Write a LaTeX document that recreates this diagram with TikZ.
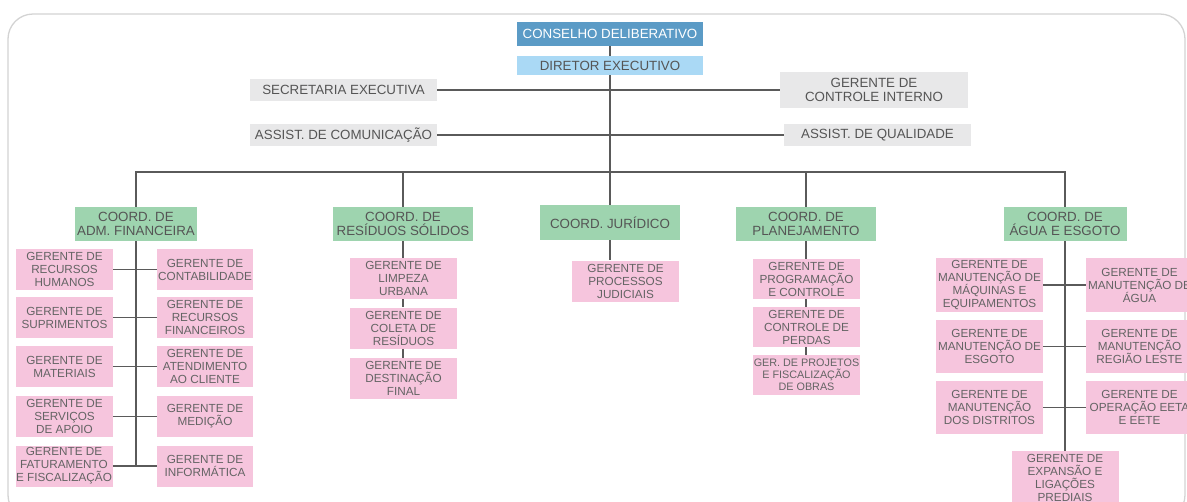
\documentclass[tikz,border=0pt]{standalone}
\usepackage{fontspec}
\setmainfont{Liberation Sans}
\newcommand\upx{*0.75pt}
\definecolor{consc}{RGB}{91,155,198}
\definecolor{dirc}{RGB}{170,217,245}
\definecolor{grayc}{RGB}{232,232,233}
\definecolor{greenc}{RGB}{158,212,175}
\definecolor{pinkc}{RGB}{246,197,221}
\definecolor{txtc}{RGB}{85,85,85}
\definecolor{pinktxt}{RGB}{100,100,100}
\definecolor{linec}{RGB}{90,90,90}
\definecolor{framec}{RGB}{211,211,211}
\tikzset{
  box/.style={inner sep=0pt, align=center, text=txtc},
  topbox/.style={box, font=\fontsize{10}{11}\selectfont, minimum width=187\upx, minimum height=22\upx},
  graybox/.style={topbox, fill=grayc},
  coord/.style={box, fill=greenc, font=\fontsize{10}{10.5}\selectfont, minimum height=34\upx},
  ger/.style={box, fill=pinkc, font=\fontsize{8.8}{9.75}\selectfont, text=pinktxt},
  gadm/.style={ger, minimum width=97\upx, minimum height=41\upx},
  gsm/.style={ger, minimum width=107\upx, minimum height=41\upx},
  gagua/.style={ger, minimum width=107\upx, minimum height=53\upx},
  conn/.style={draw=linec, line width=1.1\upx},
}
\begin{document}
\begin{tikzpicture}[x=0.75pt, y=-0.75pt]
\useasboundingbox (0,0) rectangle (1187,501);
\clip (0,0) rectangle (1187,501);
\draw[framec, line width=1.3\upx, rounded corners=25\upx] (8,14) rectangle (1185,520);

% top
\node[topbox, fill=consc, text=white, minimum width=186\upx, minimum height=24\upx] (cons) at (610,34) {CONSELHO DELIBERATIVO};
\node[topbox, fill=dirc, minimum width=186\upx, minimum height=19\upx] (dir) at (610,65.5) {DIRETOR EXECUTIVO};
\node[graybox] (sec) at (343.5,90) {SECRETARIA EXECUTIVA};
\node[graybox, minimum width=188\upx, minimum height=36\upx] (gci) at (874,90) {GERENTE DE\\CONTROLE INTERNO};
\node[graybox] (com) at (343.5,135) {ASSIST. DE COMUNICAÇÃO};
\node[graybox] (qual) at (877.5,135) {ASSIST. DE QUALIDADE};
\coordinate (bus) at (610,172);

\draw[conn] (cons.south) -- (dir.north);
\draw[conn] (dir.south) -- (bus);
\draw[conn] (sec.east) -- (gci.west);
\draw[conn] (com.east) -- (qual.west);

% coordinations
\node[coord, minimum width=122\upx] (c1) at (136,224) {COORD. DE\\ADM. FINANCEIRA};
\node[coord, minimum width=140\upx] (c2) at (403,224) {COORD. DE\\RESÍDUOS SÓLIDOS};
\node[coord, minimum width=140\upx, minimum height=35\upx] (c3) at (610,222.5) {COORD. JURÍDICO};
\node[coord, minimum width=140\upx] (c4) at (806,224) {COORD. DE\\PLANEJAMENTO};
\node[coord, minimum width=123\upx] (c5) at (1065,224) {COORD. DE\\ÁGUA E ESGOTO};

\draw[conn] (c1.north) |- (bus) -| (c5.north);
\draw[conn] (c2.north) -- (c2.north |- bus);
\draw[conn] (c3.north) -- (bus);
\draw[conn] (c4.north) -- (c4.north |- bus);

% ADM
\node[gadm] (a1) at (64.5,269.5) {GERENTE DE\\RECURSOS\\HUMANOS};
\node[gadm] (a2) at (64.5,317.5) {GERENTE DE\\SUPRIMENTOS};
\node[gadm] (a3) at (64.5,366.5) {GERENTE DE\\MATERIAIS};
\node[gadm] (a4) at (64.5,416.5) {GERENTE DE\\SERVIÇOS\\DE APOIO};
\node[gadm] (a5) at (64,466) {GERENTE DE\\FATURAMENTO\\E FISCALIZAÇÃO};
\node[gadm, minimum width=96\upx] (b1) at (205,269.5) {GERENTE DE\\CONTABILIDADE};
\node[gadm, minimum width=96\upx] (b2) at (205,317.5) {GERENTE DE\\RECURSOS\\FINANCEIROS};
\node[gadm, minimum width=96\upx] (b3) at (205,366.5) {GERENTE DE\\ATENDIMENTO\\AO CLIENTE};
\node[gadm, minimum width=96\upx] (b4) at (205,416.5) {GERENTE DE\\MEDIÇÃO};
\node[gadm, minimum width=96\upx] (b5) at (205,466) {GERENTE DE\\INFORMÁTICA};
\draw[conn] (c1.south) -- (c1.south |- a5.east);
\foreach \i in {1,...,5} \draw[conn] (a\i.east) -- (b\i.west);

% RES
\node[gsm] (r1) at (403.5,278.5) {GERENTE DE\\LIMPEZA\\URBANA};
\node[gsm] (r2) at (403.5,328) {GERENTE DE\\COLETA DE\\RESÍDUOS};
\node[gsm] (r3) at (403.5,378.5) {GERENTE DE\\DESTINAÇÃO\\FINAL};
\draw[conn] (c2.south) -- (c2.south |- r1.north);
\draw[conn] (c2.south |- r1.south) -- (c2.south |- r2.north);
\draw[conn] (c2.south |- r2.south) -- (c2.south |- r3.north);

% JUR
\node[gsm] (j1) at (625.5,281) {GERENTE DE\\PROCESSOS\\JUDICIAIS};
\draw[conn] (c3.south) -- (c3.south |- j1.north);

% PLAN
\node[gsm, minimum height=40\upx] (p1) at (806.5,279) {GERENTE DE\\PROGRAMAÇÃO\\E CONTROLE};
\node[gsm, minimum height=40\upx] (p2) at (806.5,327) {GERENTE DE\\CONTROLE DE\\PERDAS};
\node[gsm, minimum height=40\upx, font=\fontsize{8.1}{9.1}\selectfont] (p3) at (806.5,375) {GER. DE PROJETOS\\E FISCALIZAÇÃO\\DE OBRAS};
\draw[conn] (c4.south) -- (c4.south |- p1.north);
\draw[conn] (c4.south |- p1.south) -- (c4.south |- p2.north);
\draw[conn] (c4.south |- p2.south) -- (c4.south |- p3.north);

% AGUA
\node[gagua, minimum height=54\upx] (w1) at (989.5,285) {GERENTE DE\\MANUTENÇÃO DE\\MÁQUINAS E\\EQUIPAMENTOS};
\node[gagua] (w2) at (989.5,346.5) {GERENTE DE\\MANUTENÇÃO DE\\ESGOTO};
\node[gagua] (w3) at (989.5,407.5) {GERENTE DE\\MANUTENÇÃO\\DOS DISTRITOS};
\node[gagua, minimum height=54\upx] (v1) at (1139.5,285) {GERENTE DE\\MANUTENÇÃO DE\\ÁGUA};
\node[gagua] (v2) at (1139.5,346.5) {GERENTE DE\\MANUTENÇÃO\\REGIÃO LESTE};
\node[gagua] (v3) at (1139.5,407.5) {GERENTE DE\\OPERAÇÃO EETA\\E EETE};
\node[gagua, minimum height=54\upx] (w7) at (1065,478) {GERENTE DE\\EXPANSÃO E\\LIGAÇÕES\\PREDIAIS};
\draw[conn] (c5.south) -- (w7.north);
\foreach \i in {1,2,3} \draw[conn] (w\i.east) -- (v\i.west);
\end{tikzpicture}
\end{document}
